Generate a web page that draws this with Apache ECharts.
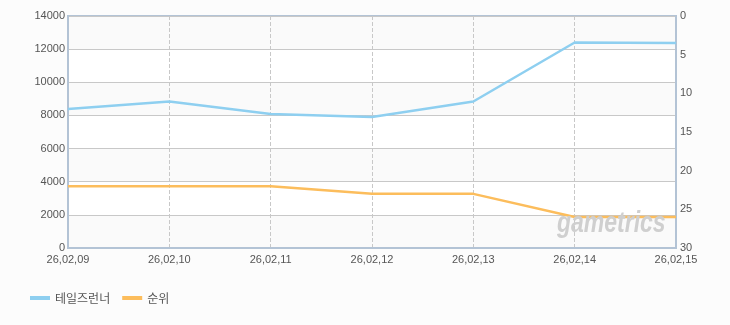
<!DOCTYPE html>
<html><head><meta charset="utf-8">
<script src="https://cdn.jsdelivr.net/npm/echarts@6/dist/echarts.min.js"></script>
<style>html,body{margin:0;padding:0;background:#fcfcfc}#c{width:730px;height:325px}</style>
</head><body><div id="c"></div>
<script>
const categories = ['26,02,09','26,02,10','26,02,11','26,02,12','26,02,13','26,02,14','26,02,15'];
const playersName = '테일즈런너';
const playersValues = [8390, 8840, 8090, 7910, 8840, 12400, 12370];
const rankName = '순위';
const rankValues = [22, 22, 22, 23, 23, 26, 26];

const chart = echarts.init(document.getElementById('c'));
const font = '"Liberation Sans", Arial, sans-serif';
chart.setOption({
  backgroundColor: '#fcfcfc',
  animation: false,
  textStyle: {fontFamily: font},
  grid: {left: 68, right: 54, top: 16, bottom: 77, show: true, borderColor: '#b3c3d5', borderWidth: 2, backgroundColor: '#fff'},
  legend: {
    left: 25, bottom: 16, itemGap: 12, itemWidth: 20, itemHeight: 4, icon: 'rect',
    textStyle: {color: '#555', fontSize: 12, fontFamily: '"Noto Sans CJK KR", sans-serif'},
    data: [playersName, rankName]
  },
  xAxis: {
    type: 'category', data: categories, boundaryGap: false,
    axisLine: {lineStyle: {color: '#b3c3d5', width: 2}},
    axisTick: {show: false},
    axisLabel: {color: '#555', fontSize: 11, margin: 6, fontFamily: font},
    splitLine: {show: true, lineStyle: {color: '#c8c8c8', type: 'dashed'}}
  },
  yAxis: [
    {type: 'value', min: 0, max: 14000, interval: 2000,
     axisLine: {show: true, lineStyle: {color: '#b3c3d5', width: 2}},
     axisTick: {show: false},
     axisLabel: {color: '#555', fontSize: 11, margin: 3, fontFamily: font, formatter: v => String(v)},
     splitLine: {lineStyle: {color: '#c8c8c8'}},
     splitArea: {show: true, areaStyle: {color: ['#fafafa', '#ffffff']}}},
    {type: 'value', min: 0, max: 30, interval: 5, inverse: true,
     axisLine: {show: true, lineStyle: {color: '#b3c3d5', width: 2}},
     axisTick: {show: false},
     axisLabel: {color: '#555', fontSize: 11, margin: 4, fontFamily: font, formatter: v => String(v)},
     splitLine: {show: false}}
  ],
  graphic: [{
    type: 'text', x: 557, y: 210, scaleY: 1.25, z: 100,
    style: {text: 'gametrics', fill: '#cfcfcf', fontSize: 23, fontStyle: 'italic', fontWeight: 'bold', fontFamily: '"Liberation Sans Narrow", "Liberation Sans", sans-serif'}
  }],
  series: [
    {name: playersName, type: 'line', data: playersValues, yAxisIndex: 0, symbol: 'none',
     lineStyle: {color: '#8ecff0', width: 2.5}, itemStyle: {color: '#8ecff0'}},
    {name: rankName, type: 'line', data: rankValues, yAxisIndex: 1, symbol: 'none',
     lineStyle: {color: '#fcbd5c', width: 2.5}, itemStyle: {color: '#fcbd5c'}}
  ]
});
</script></body></html>
